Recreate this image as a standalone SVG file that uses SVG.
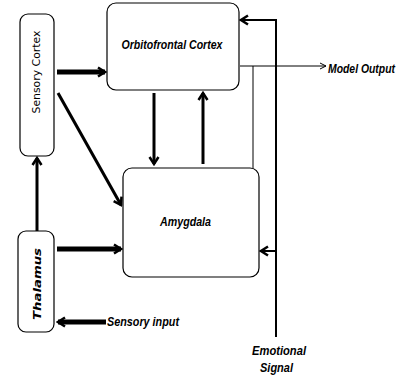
<svg xmlns="http://www.w3.org/2000/svg" width="405" height="381" viewBox="0 0 405 381">
<style>
.box{fill:#fff;stroke:#000;stroke-width:1.2}
.lbl{font-family:"Liberation Sans",Arial,sans-serif;font-weight:bold;font-style:italic;font-size:13px;fill:#000}
.vl{font-family:"DejaVu Sans",Verdana,sans-serif;font-size:10px;fill:#000}
.c{fill:none;stroke:#000}
</style>
<defs>
<marker id="chev" markerUnits="userSpaceOnUse" markerWidth="12" markerHeight="12" viewBox="0 0 12 12" refX="10" refY="6" orient="auto">
<path d="M3,1.5 L10,6 L3,10.5" fill="none" stroke="#000" stroke-width="2.5"/>
</marker>
<marker id="thin" markerUnits="userSpaceOnUse" markerWidth="10" markerHeight="10" viewBox="0 0 10 10" refX="9" refY="5" orient="auto">
<path d="M3,2 L9,5 L3,8" fill="none" stroke="#000" stroke-width="1"/>
</marker>
</defs>
<rect width="405" height="381" fill="#fff"/>
<g id="connectors">
<line class="c" x1="57" y1="72" x2="105" y2="72" stroke-width="5" marker-end="url(#chev)"/>
<line class="c" x1="58" y1="93" x2="121" y2="205" stroke-width="3" marker-end="url(#chev)"/>
<line class="c" x1="154" y1="93" x2="154" y2="164" stroke-width="3" marker-end="url(#chev)"/>
<line class="c" x1="203" y1="164" x2="203" y2="93" stroke-width="3" marker-end="url(#chev)"/>
<line class="c" x1="57" y1="249" x2="121" y2="249" stroke-width="5" marker-end="url(#chev)"/>
<line class="c" x1="37" y1="231" x2="37" y2="158" stroke-width="3" marker-end="url(#chev)"/>
<line class="c" x1="106" y1="322" x2="58" y2="322" stroke-width="5" marker-end="url(#chev)"/>
<polyline class="c" points="276,337 276,20 241,20" stroke-width="2" marker-end="url(#chev)"/>
<line class="c" x1="276" y1="251" x2="261" y2="251" stroke-width="2" marker-end="url(#chev)"/>
<line class="c" x1="240" y1="66" x2="326" y2="66" stroke-width="1" marker-end="url(#thin)"/>
<line class="c" x1="253" y1="66" x2="253" y2="168" stroke-width="1"/>
</g>
<g id="sensory-cortex">
<rect class="box" x="20" y="14" width="34" height="142" rx="8"/>
<text class="vl" transform="translate(40,72) rotate(-90)" text-anchor="middle" textLength="83" lengthAdjust="spacingAndGlyphs">Sensory Cortex</text>
</g>
<g id="orbitofrontal-cortex">
<rect class="box" x="107" y="3" width="132" height="87" rx="9"/>
<text class="lbl" x="172" y="49" font-size="15" text-anchor="middle" textLength="101" lengthAdjust="spacingAndGlyphs">Orbitofrontal Cortex</text>
</g>
<g id="amygdala">
<rect class="box" x="123" y="168" width="136" height="109" rx="9"/>
<text class="lbl" x="185.5" y="226" text-anchor="middle" textLength="51" lengthAdjust="spacingAndGlyphs">Amygdala</text>
</g>
<g id="thalamus">
<rect class="box" x="18" y="231" width="36" height="101" rx="8"/>
<text class="vl" font-weight="bold" font-style="italic" font-size="11" transform="translate(41,284) rotate(-90)" text-anchor="middle" textLength="72" lengthAdjust="spacingAndGlyphs">Thalamus</text>
</g>
<g id="labels">
<text class="lbl" transform="translate(328,73) scale(0.8,1)">Model Output</text>
<text class="lbl" x="107" y="326" textLength="72" lengthAdjust="spacingAndGlyphs">Sensory input</text>
<text class="lbl" x="252" y="355" font-size="15" textLength="54" lengthAdjust="spacingAndGlyphs">Emotional</text>
<text class="lbl" x="260" y="372" font-size="15" textLength="33" lengthAdjust="spacingAndGlyphs">Signal</text>
</g>
</svg>
